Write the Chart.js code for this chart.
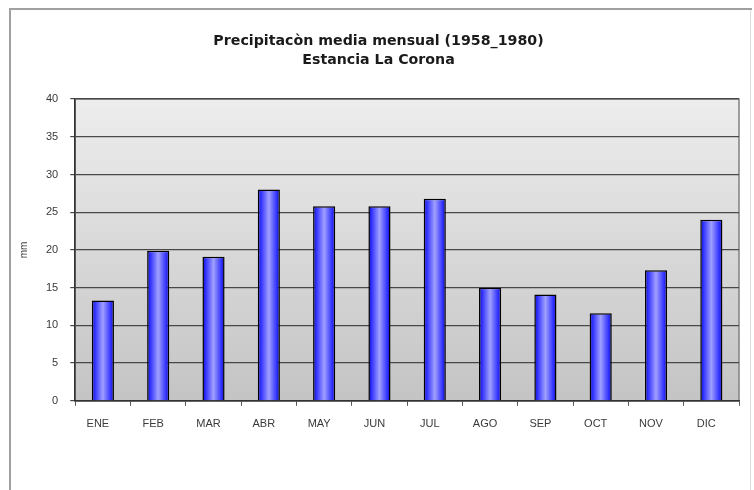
<!DOCTYPE html>
<html>
<head>
<meta charset="utf-8">
<script src="https://cdn.jsdelivr.net/npm/chart.js@4/dist/chart.umd.min.js"></script>
<style>
html,body{margin:0;padding:0;background:#fff;}
#wrap{width:754px;height:490px;position:relative;}
</style>
</head>
<body>
<div id="wrap"><canvas id="c" width="754" height="490"></canvas></div>
<script>
const months = ["ENE","FEB","MAR","ABR","MAY","JUN","JUL","AGO","SEP","OCT","NOV","DIC"];
const precipitation = [13.3, 19.9, 19.1, 28.0, 25.8, 25.8, 26.8, 15.0, 14.1, 11.6, 17.3, 24.0];
const titleLines = ["Precipitacòn media mensual (1958_1980)", "Estancia La Corona"];
const yAxisTitle = "mm";
const yMin = 0, yMax = 40, yStep = 5;

const BAR_PCT = 0.4;

function barGradient(ctx) {
  const chart = ctx.chart;
  const xs = chart.scales && chart.scales.x;
  if (!chart.chartArea || !xs || ctx.dataIndex === undefined) return '#4040ff';
  const cx = xs.getPixelForValue(ctx.dataIndex);
  const w = (chart.chartArea.right - chart.chartArea.left) / months.length * BAR_PCT;
  const g = chart.ctx.createLinearGradient(cx - w / 2, 0, cx + w / 2, 0);
  g.addColorStop(0, '#0c0cc0');
  g.addColorStop(0.15, '#3333ff');
  g.addColorStop(0.5, '#a0a0ff');
  g.addColorStop(0.85, '#3333ff');
  g.addColorStop(1, '#0c0cc0');
  return g;
}

const framePlugin = {
  id: 'frame',
  beforeDraw(chart) {
    const c = chart.ctx;
    c.save();
    c.fillStyle = '#ffffff';
    c.fillRect(0, 0, chart.width, chart.height);
    c.strokeStyle = '#a0a0a0';
    c.lineWidth = 2;
    c.beginPath();
    c.moveTo(10, 495);
    c.lineTo(10, 9);
    c.lineTo(752, 9);
    c.stroke();
    c.strokeStyle = '#dcdcdc';
    c.lineWidth = 1;
    c.beginPath();
    c.moveTo(750.5, 10);
    c.lineTo(750.5, 490);
    c.stroke();
    const a = chart.chartArea;
    const g = c.createLinearGradient(0, a.top, 0, a.bottom);
    g.addColorStop(0, '#ededed');
    g.addColorStop(1, '#c4c4c4');
    c.fillStyle = g;
    c.fillRect(a.left, a.top, a.right - a.left, a.bottom - a.top);
    c.strokeStyle = '#808080';
    c.lineWidth = 1.5;
    c.strokeRect(a.left, a.top, a.right - a.left, a.bottom - a.top);
    c.restore();
  }
};

new Chart(document.getElementById('c'), {
  type: 'bar',
  data: {
    labels: months,
    datasets: [{
      label: 'Precipitación',
      data: precipitation,
      backgroundColor: barGradient,
      borderColor: '#000000',
      borderWidth: 1.5,
      barPercentage: BAR_PCT,
      categoryPercentage: 1.0
    }]
  },
  options: {
    responsive: false,
    animation: false,
    devicePixelRatio: 1,
    layout: { padding: { left: 18, right: 15, top: 0, bottom: 47 } },
    plugins: {
      legend: { display: false },
      tooltip: { enabled: false },
      title: {
        display: true,
        text: titleLines,
        color: '#1a1a1a',
        font: { family: 'DejaVu Sans, Verdana, sans-serif', size: 14.2, weight: 'bold', lineHeight: 1.34 },
        padding: { top: 31.5, bottom: 29.5 }
      }
    },
    scales: {
      x: {
        grid: { display: true, drawOnChartArea: false, drawTicks: true, tickLength: 5, color: '#555555', lineWidth: 1 },
        border: { display: true, color: '#333333', width: 1.5 },
        ticks: { color: '#3a3a3a', padding: 12, labelOffset: -5, font: { family: 'Liberation Sans, Arial, sans-serif', size: 11 } }
      },
      y: {
        min: yMin,
        max: yMax,
        ticks: { stepSize: yStep, color: '#3a3a3a', padding: 12, font: { family: 'Liberation Sans, Arial, sans-serif', size: 11 } },
        grid: { color: '#484848', lineWidth: 1.2, drawTicks: true, tickLength: 5 },
        border: { display: true, color: '#333333', width: 1.5 },
        title: { display: true, text: yAxisTitle, color: '#3a3a3a', padding: { top: 0, bottom: 4 }, font: { family: 'Liberation Sans, Arial, sans-serif', size: 10 } }
      }
    }
  },
  plugins: [framePlugin]
});
</script>
</body>
</html>
